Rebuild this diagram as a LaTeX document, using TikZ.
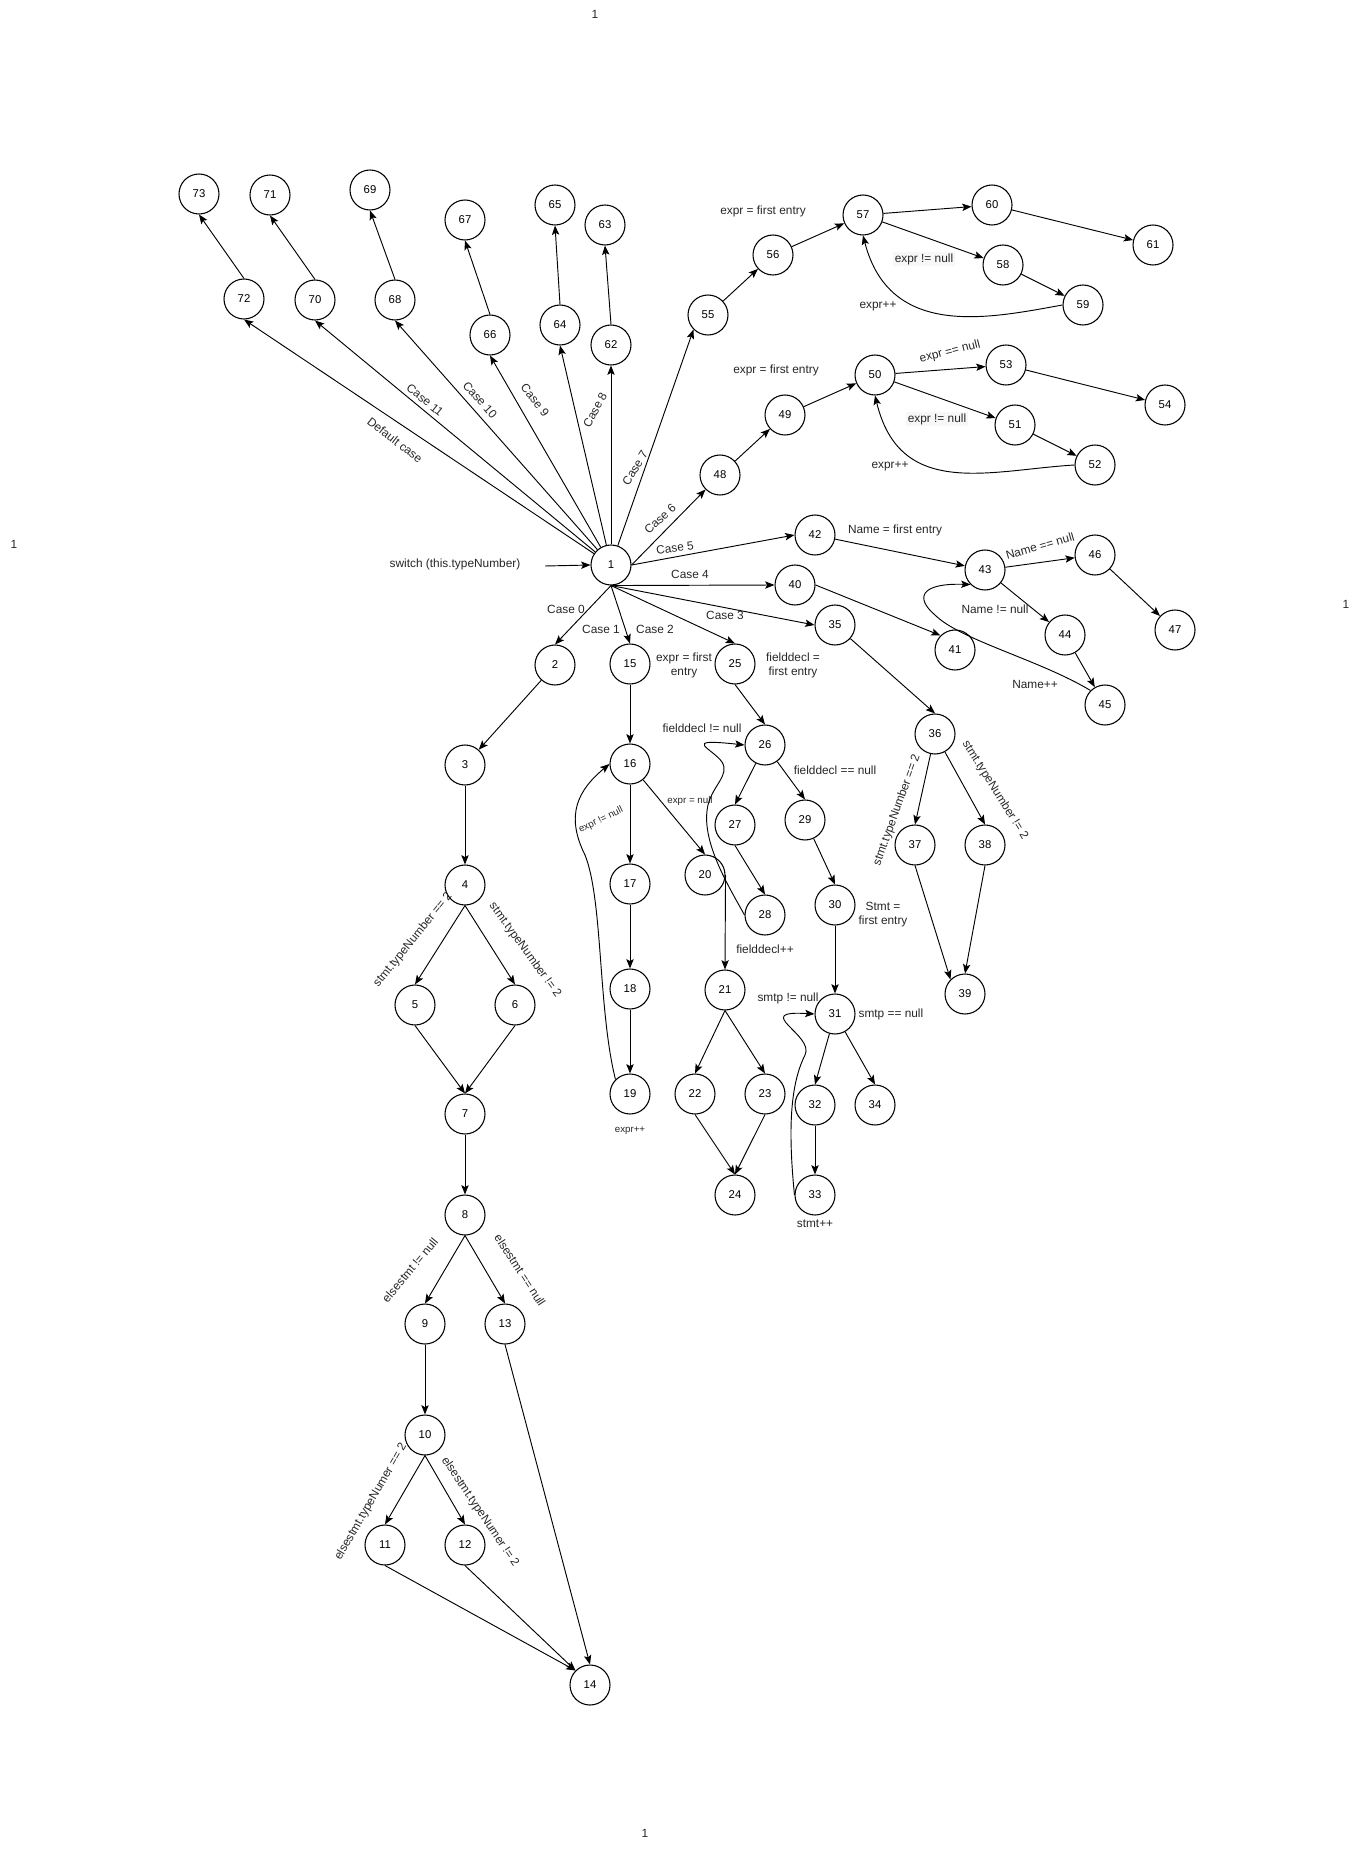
\documentclass[tikz,border=0pt]{standalone}
\usepackage{fontspec}
\setmainfont{Liberation Sans}
\usepackage{tikz}
\usetikzlibrary{arrows.meta}
\usepackage{xcolor}

\begin{document}
\begin{tikzpicture}[
  x=0.75pt, y=-0.75pt,
  % Node Styles
  cnode/.style={circle, draw, line width=0.8pt, minimum size=30pt, inner sep=0pt, font=\fontsize{8.5}{10}\selectfont},
  elabel/.style={inner sep=1pt, align=center, text=black!85, font=\fontsize{8.9}{10.4}\selectfont},
  slabel/.style={inner sep=1pt, align=center, text=black!85, font=\fontsize{7.3}{8.6}\selectfont},
  boxlabel/.style={elabel, fill=black!3},
  % Arrow Styles
  solidarrow/.style={-{Stealth[length=7pt, width=5.5pt, inset=1.5pt]}, line width=0.7pt}
]
\useasboundingbox (0,0) rectangle (1361,1851);

% Diagram for: switch (this.typeNumber)

\node[cnode] (n1) at (611,565) {1};
\node[cnode] (n2) at (555,665) {2};
\node[cnode] (n3) at (465,765) {3};
\node[cnode] (n4) at (465,885) {4};
\node[cnode] (n5) at (415,1005) {5};
\node[cnode] (n6) at (515,1005) {6};
\node[cnode] (n7) at (465,1114) {7};
\node[cnode] (n8) at (465,1215) {8};
\node[cnode] (n9) at (425,1324) {9};
\node[cnode] (n10) at (425,1435) {10};
\node[cnode] (n11) at (385,1545) {11};
\node[cnode] (n12) at (465,1545) {12};
\node[cnode] (n13) at (505,1324) {13};
\node[cnode] (n14) at (590,1685) {14};
\node[cnode] (n15) at (630,664) {15};
\node[cnode] (n16) at (630,764) {16};
\node[cnode] (n17) at (630,884) {17};
\node[cnode] (n18) at (630,989) {18};
\node[cnode] (n19) at (630,1094) {19};
\node[cnode] (n20) at (705,875) {20};
\node[cnode] (n21) at (725,990) {21};
\node[cnode] (n22) at (695,1094) {22};
\node[cnode] (n23) at (765,1094) {23};
\node[cnode] (n24) at (735,1195) {24};
\node[cnode] (n25) at (735,664) {25};
\node[cnode] (n26) at (765,745) {26};
\node[cnode] (n27) at (735,825) {27};
\node[cnode] (n28) at (765,915) {28};
\node[cnode] (n29) at (805,820) {29};
\node[cnode] (n30) at (835,905) {30};
\node[cnode] (n31) at (835,1014) {31};
\node[cnode] (n32) at (815,1105) {32};
\node[cnode] (n33) at (815,1195) {33};
\node[cnode] (n34) at (875,1105) {34};
\node[cnode] (n35) at (835,625) {35};
\node[cnode] (n36) at (935,734) {36};
\node[cnode] (n37) at (915,845) {37};
\node[cnode] (n38) at (985,845) {38};
\node[cnode] (n39) at (965,994) {39};
\node[cnode] (n40) at (795,585) {40};
\node[cnode] (n41) at (955,650) {41};
\node[cnode] (n42) at (815,535) {42};
\node[cnode] (n43) at (985,570) {43};
\node[cnode] (n44) at (1065,635) {44};
\node[cnode] (n45) at (1105,705) {45};
\node[cnode] (n46) at (1095,555) {46};
\node[cnode] (n47) at (1175,630) {47};
\node[cnode] (n48) at (720,475) {48};
\node[cnode] (n49) at (785,415) {49};
\node[cnode] (n50) at (875,375) {50};
\node[cnode] (n51) at (1015,425) {51};
\node[cnode] (n52) at (1095,465) {52};
\node[cnode] (n53) at (1006,365) {53};
\node[cnode] (n54) at (1165,405) {54};
\node[cnode] (n55) at (708,315) {55};
\node[cnode] (n56) at (773,255) {56};
\node[cnode] (n57) at (863,215) {57};
\node[cnode] (n58) at (1003,265) {58};
\node[cnode] (n59) at (1083,305) {59};
\node[cnode] (n60) at (992,205) {60};
\node[cnode] (n61) at (1153,245) {61};
\node[cnode] (n62) at (611,345) {62};
\node[cnode] (n63) at (605,225) {63};
\node[cnode] (n64) at (560,325) {64};
\node[cnode] (n65) at (555,205) {65};
\node[cnode] (n66) at (490,335) {66};
\node[cnode] (n67) at (465,220) {67};
\node[cnode] (n68) at (395,300) {68};
\node[cnode] (n69) at (370,190) {69};
\node[cnode] (n70) at (315,300) {70};
\node[cnode] (n71) at (270,195) {71};
\node[cnode] (n72) at (244,299) {72};
\node[cnode] (n73) at (199,194) {73};

% page marks
\node[elabel] (pg_top) at (595,14) {1};
\node[elabel] (pg_left) at (14,544) {1};
\node[elabel] (pg_right) at (1346,604) {1};
\node[elabel] (pg_bottom) at (645,1833) {1};

% switch entry
\node[elabel] (L_switch) at (455,564) {switch (this.typeNumber)};
\coordinate (sw) at (545,566);
\draw[solidarrow] (sw) -- (n1.west);

% cases
\draw[solidarrow] (n1.south) -- (n2.north);
\draw[solidarrow] (n1.south) -- (n15.north);
\draw[solidarrow] (n1.south) -- (n25.north);
\draw[solidarrow] (n1.south) -- (n35.west);
\draw[solidarrow] (n1.south) -- (n40.west);
\draw[solidarrow] (n1.east) -- (n42.west);
\draw[solidarrow] (n1.east) -- (n48.south west);
\draw[solidarrow] (n1) -- (n55.south west);
\draw[solidarrow] (n1) -- (n62.south);
\draw[solidarrow] (n1) -- (n64.south);
\draw[solidarrow] (n1) -- (n66.south);
\draw[solidarrow] (n1) -- (n68.south);
\draw[solidarrow] (n1) -- (n70.south);
\draw[solidarrow] (n1) -- (n72.south);

\node[elabel] (L_c0) at (566,609) {Case 0};
\node[elabel] (L_c1) at (601,629) {Case 1};
\node[elabel] (L_c2) at (655,629) {Case 2};
\node[elabel] (L_c3) at (725,615) {Case 3};
\node[elabel] (L_c4) at (690,574) {Case 4};
\node[elabel, rotate=8] (L_c5) at (675,548) {Case 5};
\node[elabel, rotate=42] (L_c6) at (660,519) {Case 6};
\node[elabel, rotate=58] (L_c7) at (635,468) {Case 7};
\node[elabel, rotate=62] (L_c8) at (595,410) {Case 8};
\node[elabel, rotate=-52] (L_c9) at (535,400) {Case 9};
\node[elabel, rotate=-48] (L_c10) at (480,400) {Case 10};
\node[elabel, rotate=-39] (L_c11) at (425,400) {Case 11};
\node[elabel, rotate=-38] (L_cdef) at (395,440) {Default case};

% case 0
\draw[solidarrow] (n2) -- (n3);
\draw[solidarrow] (n3) -- (n4);
\draw[solidarrow] (n4.south) -- (n5.north);
\draw[solidarrow] (n4.south) -- (n6.north);
\draw[solidarrow] (n5.south) -- (n7.north);
\draw[solidarrow] (n6.south) -- (n7.north);
\draw[solidarrow] (n7) -- (n8);
\draw[solidarrow] (n8.south) -- (n9.north);
\draw[solidarrow] (n8.south) -- (n13.north);
\draw[solidarrow] (n9) -- (n10);
\draw[solidarrow] (n10.south) -- (n11.north);
\draw[solidarrow] (n10.south) -- (n12.north);
\draw[solidarrow] (n11.south) -- (n14.north west);
\draw[solidarrow] (n12.south) -- (n14.north west);
\draw[solidarrow] (n13.south) -- (n14.north);
\node[elabel, rotate=51] (L_t2a) at (413,940) {stmt.typeNumber == 2};
\node[elabel, rotate=-54] (L_t2b) at (525,950) {stmt.typeNumber != 2};
\node[elabel, rotate=50] (L_else1) at (410,1270) {elsestmt != null};
\node[elabel, rotate=-57] (L_else2) at (520,1270) {elsestmt == null};
\node[elabel, rotate=60] (L_else3) at (371,1502) {elsestmt.typeNumer == 2};
\node[elabel, rotate=-56] (L_else4) at (480,1512) {elsestmt.typeNumer != 2};

% case 1
\draw[solidarrow] (n15) -- (n16);
\draw[solidarrow] (n16) -- (n17);
\draw[solidarrow] (n17) -- (n18);
\draw[solidarrow] (n18) -- (n19);
\draw[solidarrow] (n16) -- (n20.north);
\draw[solidarrow] (n20.east) -- (n21.north);
\draw[solidarrow] (n21.south) -- (n22.north);
\draw[solidarrow] (n21.south) -- (n23.north);
\draw[solidarrow] (n22.south) -- (n24.north);
\draw[solidarrow] (n23.south) -- (n24.north);
\draw[solidarrow] (n19.north west) .. controls (598,1010) and (603,900) .. (585,855) .. controls (565,815) and (578,790) .. (n16.west);
\node[elabel] (L_e1) at (684,665) {expr = first\\entry};
\node[slabel] (L_e2) at (690,801) {expr = null};
\node[slabel, rotate=26] (L_e3) at (601,820) {expr != null};
\node[slabel] (L_e4) at (630,1131) {expr++};

% case 2
\draw[solidarrow] (n25.south) -- (n26.north);
\draw[solidarrow] (n26) -- (n27.north);
\draw[solidarrow] (n26) -- (n29.north);
\draw[solidarrow] (n27.south) -- (n28.north);
\draw[solidarrow] (n29) -- (n30.north);
\draw[solidarrow] (n30) -- (n31);
\draw[solidarrow] (n31) -- (n32.north);
\draw[solidarrow] (n31) -- (n34.north);
\draw[solidarrow] (n32) -- (n33);
\draw[solidarrow] (n28.west) .. controls (728,885) and (700,840) .. (708,805) .. controls (713,785) and (730,775) .. (722,762) .. controls (712,748) and (680,738) .. (n26.west);
\draw[solidarrow] (n33.west) .. controls (788,1130) and (790,1085) .. (805,1055) .. controls (815,1035) and (750,1010) .. (n31.west);
\node[elabel] (L_f1) at (793,665) {fielddecl =\\first entry};
\node[elabel] (L_f2) at (702,728) {fielddecl != null};
\node[elabel] (L_f3) at (835,770) {fielddecl == null};
\node[elabel] (L_f4) at (765,949) {fielddecl++};
\node[elabel] (L_s1) at (883,915) {Stmt =\\first entry};
\node[elabel] (L_s2) at (788,998) {smtp != null};
\node[elabel, anchor=west] (L_s3) at (857,1014) {smtp == null};
\node[elabel] (L_s4) at (815,1224) {stmt++};

% case 3
\draw[solidarrow] (n35) -- (n36.north);
\draw[solidarrow] (n36) -- (n37.north);
\draw[solidarrow] (n36) -- (n38.north);
\draw[solidarrow] (n37.south) -- (n39.north west);
\draw[solidarrow] (n38.south) -- (n39.north);
\node[elabel, rotate=70] (L_t3a) at (897,810) {stmt.typeNumber == 2};
\node[elabel, rotate=-58] (L_t3b) at (995,790) {stmt.typeNumber != 2};

% case 4
\draw[solidarrow] (n40.east) -- (n41.north west);

% case 5
\draw[solidarrow] (n42) -- (n43);
\draw[solidarrow] (n43) -- (n46);
\draw[solidarrow] (n43) -- (n44);
\draw[solidarrow] (n44) -- (n45);
\draw[solidarrow] (n46) -- (n47);
\draw[solidarrow] (n45.north west) .. controls (1040,660) and (960,640) .. (935,615) .. controls (915,598) and (920,583) .. (n43.south west);
\node[elabel] (L_n1) at (895,530) {Name = first entry};
\node[elabel, rotate=16] (L_n2) at (1040,546) {Name == null};
\node[elabel] (L_n3) at (995,609) {Name != null};
\node[elabel] (L_n4) at (1035,684) {Name++};

% case 6
\draw[solidarrow] (n48) -- (n49);
\draw[solidarrow] (n49) -- (n50);
\draw[solidarrow] (n50) -- (n53);
\draw[solidarrow] (n50) -- (n51);
\draw[solidarrow] (n51) -- (n52);
\draw[solidarrow] (n53) -- (n54);
\draw[solidarrow] (n52.west) .. controls (990,470) and (900,500) .. (n50.south);
\node[elabel] (L_x1) at (776,370) {expr = first entry};
\node[elabel, rotate=14] (L_x2) at (950,352) {expr == null};
\node[boxlabel] (L_x3) at (937,419) {expr != null};
\node[elabel] (L_x4) at (890,466) {expr++};

% case 7
\draw[solidarrow] (n55) -- (n56);
\draw[solidarrow] (n56) -- (n57);
\draw[solidarrow] (n57) -- (n60);
\draw[solidarrow] (n57) -- (n58);
\draw[solidarrow] (n58) -- (n59);
\draw[solidarrow] (n60) -- (n61);
\draw[solidarrow] (n59.west) .. controls (990,318) and (890,340) .. (n57.south);
\node[elabel] (L_y1) at (763,211) {expr = first entry};
\node[boxlabel] (L_y2) at (924,259) {expr != null};
\node[elabel] (L_y3) at (878,306) {expr++};

% cases 8 to 11, default
\draw[solidarrow] (n62.north) -- (n63.south);
\draw[solidarrow] (n64.north) -- (n65.south);
\draw[solidarrow] (n66.north) -- (n67.south);
\draw[solidarrow] (n68.north) -- (n69.south);
\draw[solidarrow] (n70.north) -- (n71.south);
\draw[solidarrow] (n72.north) -- (n73.south);

\end{tikzpicture}
\end{document}
